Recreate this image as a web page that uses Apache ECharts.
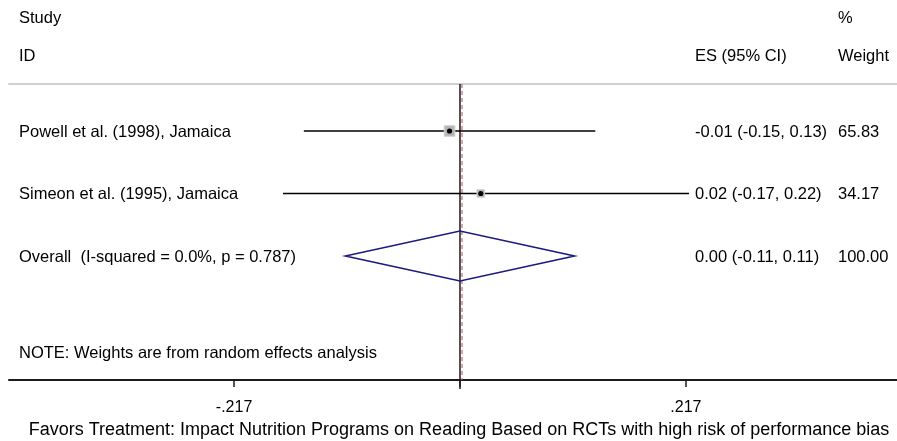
<!DOCTYPE html>
<html>
<head>
<meta charset="utf-8">
<script src="https://cdn.jsdelivr.net/npm/echarts@6/dist/echarts.min.js"></script>
<style>
  html, body { margin: 0; padding: 0; background: #fff; }
  #chart { width: 897px; height: 441px; }
</style>
</head>
<body>
<div id="chart"></div>
<script>
// Study-level estimates (effect size with 95% CI) and random-effects weights
const studies = ["Powell et al. (1998), Jamaica", "Simeon et al. (1995), Jamaica"];
const effect = [-0.01, 0.02];
const ciLower = [-0.15, -0.17];
const ciUpper = [0.13, 0.22];
const weights = [65.83, 34.17];

// Pooled estimate
const overallLabel = "Overall  (I-squared = 0.0%, p = 0.787)";
const overallEffect = [0.00];
const overallLower = [-0.11];
const overallUpper = [0.11];
const overallWeight = [100.00];

// Axis ticks
const tickValues = [-0.217, 0, 0.217];
const labelValues = [-0.217, 0.217];
const labelTexts = ["-.217", ".217"];

const FONT = '"Liberation Sans", Arial, Helvetica, sans-serif';
const FS = 16.5;
const COL_STUDY = 19, COL_ES = 695, COL_W = 838;

const fmt = v => v.toFixed(2);
const esText = (e, l, u) => fmt(e) + " (" + fmt(l) + ", " + fmt(u) + ")";

// Rows: 0..n-1 studies, n = overall
const nRows = studies.length;
const studyRows = studies.map((s, i) => [effect[i], i, ciLower[i], ciUpper[i], weights[i]]);
const overallRow = [[overallEffect[0], nRows, overallLower[0], overallUpper[0], overallWeight[0]]];

const textRows = studies.map((s, i) => ({
  row: i, name: s, es: esText(effect[i], ciLower[i], ciUpper[i]), w: fmt(weights[i])
}));
textRows.push({
  row: nRows, name: overallLabel,
  es: esText(overallEffect[0], overallLower[0], overallUpper[0]), w: fmt(overallWeight[0])
});

const Y_MIN = -0.752, Y_MAX = 3.984;

function txt(x, y, s, align) {
  return {
    type: 'text', x: x, y: y + 1,
    style: { text: s, fill: '#000', font: FS + 'px ' + FONT, align: align || 'left', verticalAlign: 'middle' }
  };
}

const chart = echarts.init(document.getElementById('chart'), null, { renderer: 'canvas', width: 897, height: 441 });

chart.setOption({
  animation: false,
  backgroundColor: '#fff',
  grid: { left: 9, right: 0, top: 84, height: 296, outerBoundsMode: 'none' },
  xAxis: [{
    type: 'value',
    position: 'bottom',
    min: -0.4332, max: 0.4198,
    splitLine: { show: false },
    axisLine: { show: true, onZero: false, lineStyle: { color: '#1a1a1a', width: 2 } },
    axisTick: { show: true, length: 7, customValues: tickValues, lineStyle: { color: '#1a1a1a', width: 1.5 } },
    axisLabel: {
      show: true, margin: 20, customValues: labelValues,
      formatter: v => { const i = labelValues.findIndex(x => Math.abs(x - v) < 1e-9); return i >= 0 ? labelTexts[i] : ''; },
      color: '#000', fontFamily: FONT, fontSize: 16
    },
    name: 'Favors Treatment: Impact Nutrition Programs on Reading Based on RCTs with high risk of performance bias',
    nameLocation: 'middle', nameGap: 36,
    nameTextStyle: { color: '#000', fontFamily: FONT, fontSize: 18, padding: [0, 0, 0, 12] }
  }, {
    type: 'value',
    position: 'top',
    min: -0.4332, max: 0.4198,
    splitLine: { show: false },
    axisLine: { show: true, onZero: false, lineStyle: { color: '#d0d0d0', width: 2 } },
    axisTick: { show: false },
    axisLabel: { show: false }
  }],
  yAxis: {
    type: 'value', inverse: true, min: Y_MIN, max: Y_MAX, show: false
  },
  graphic: [
    txt(COL_STUDY, 17, 'Study'),
    txt(COL_STUDY, 55, 'ID'),
    txt(COL_W, 17, '%'),
    txt(COL_ES, 55, 'ES (95% CI)'),
    txt(COL_W, 55, 'Weight'),
    txt(COL_STUDY, 352, 'NOTE: Weights are from random effects analysis')
  ],
  series: [
    {
      // reference lines: null effect (solid) and pooled effect (dashed)
      type: 'custom',
      data: [[0, 0], [overallEffect[0], 1]],
      renderItem: (params, api) => {
        const x = api.value(0);
        const kind = api.value(1);
        const top = api.coord([x, Y_MIN]);
        const bot = api.coord([x, Y_MAX]);
        if (kind === 0) {
          return { type: 'line', shape: { x1: top[0], y1: top[1], x2: bot[0], y2: bot[1] + 9 },
                   style: { stroke: '#1a1a1a', lineWidth: 1.5 } };
        }
        return { type: 'line', shape: { x1: top[0] + 2, y1: top[1], x2: bot[0] + 2, y2: bot[1] },
                 style: { stroke: '#c8707c', lineWidth: 1.3, lineDash: [4, 3] }, z2: 5 };
      },
      z: 3
    },
    {
      // study confidence intervals with weighted boxes
      type: 'custom',
      data: studyRows,
      renderItem: (params, api) => {
        const r = api.value(1);
        const c = api.coord([api.value(0), r]);
        const l = api.coord([api.value(2), r]);
        const u = api.coord([api.value(3), r]);
        const side = Math.sqrt(api.value(4)) * 1.3;
        return {
          type: 'group',
          children: [
            { type: 'line', shape: { x1: l[0], y1: l[1], x2: u[0], y2: u[1] }, style: { stroke: '#000', lineWidth: 1.5 } },
            { type: 'rect', shape: { x: c[0] - side / 2, y: c[1] - side / 2, width: side, height: side },
              style: { fill: '#b4b4b4', stroke: '#d0d0d0', lineWidth: 1 } },
            { type: 'circle', shape: { cx: c[0], cy: c[1], r: 2.6 }, style: { fill: '#000' } }
          ]
        };
      },
      z: 4
    },
    {
      // pooled diamond
      type: 'custom',
      data: overallRow,
      renderItem: (params, api) => {
        const r = api.value(1);
        const c = api.coord([api.value(0), r]);
        const l = api.coord([api.value(2), r]);
        const u = api.coord([api.value(3), r]);
        const h = 25;
        return {
          type: 'polygon',
          shape: { points: [[l[0], l[1]], [c[0], c[1] - h], [u[0], u[1]], [c[0], c[1] + h]] },
          style: { fill: 'none', stroke: '#1c1c7c', lineWidth: 1.6 }
        };
      },
      z: 4
    },
    {
      // row text columns
      type: 'custom',
      data: textRows.map(t => [0, t.row]),
      renderItem: (params, api) => {
        const t = textRows[params.dataIndex];
        const y = api.coord([0, api.value(1)])[1];
        return {
          type: 'group',
          children: [txt(COL_STUDY, y, t.name), txt(COL_ES, y, t.es), txt(COL_W, y, t.w)]
        };
      },
      z: 5
    }
  ]
});
</script>
</body>
</html>
